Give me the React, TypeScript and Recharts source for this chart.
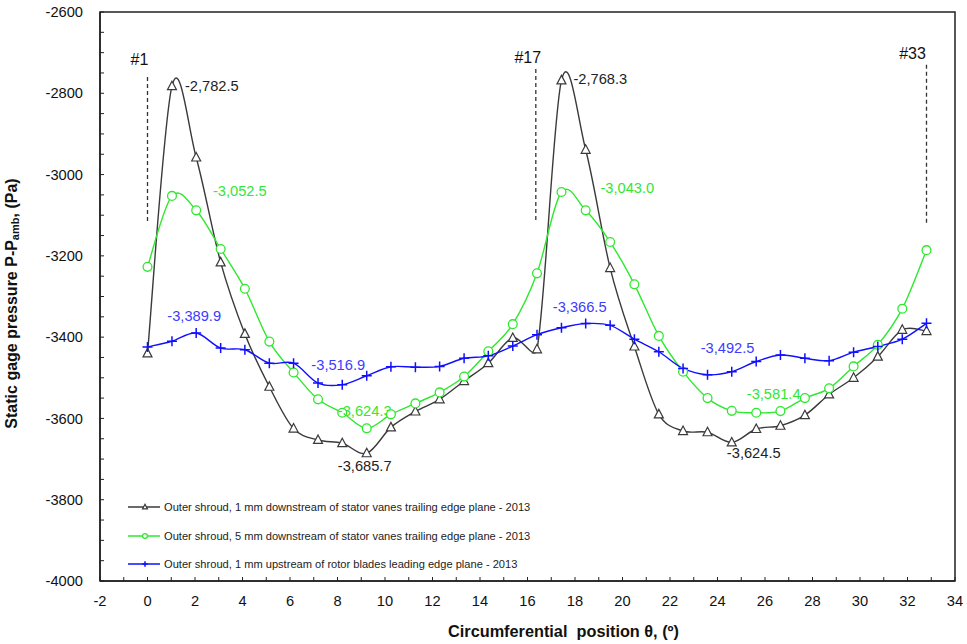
import React from 'react';
import { LineChart, Line, XAxis, YAxis, ReferenceLine, ReferenceDot, ReferenceArea, Legend } from 'recharts';

// measurement positions (degrees)
const theta = [0, 1.03, 2.05, 3.08, 4.1, 5.13, 6.15, 7.18, 8.2, 9.23, 10.25, 11.28, 12.3, 13.33, 14.35, 15.38, 16.4,
  17.43, 18.45, 19.48, 20.5, 21.53, 22.55, 23.58, 24.6, 25.63, 26.65, 27.68, 28.7, 29.73, 30.75, 31.78, 32.8];

// 1 mm downstream of stator vanes
const down1 = [-3440, -2782.5, -2958, -3216, -3392, -3522, -3625, -3653, -3661, -3685.7, -3622, -3583, -3553, -3508, -3464,
  -3402, -3430, -2768.3, -2939, -3230, -3423, -3590, -3631, -3634, -3659, -3626, -3618, -3592, -3541, -3500, -3448, -3382, -3385];

// 5 mm downstream of stator vanes
const down5 = [-3227, -3052.5, -3088, -3183, -3281, -3411, -3487, -3553, -3586, -3624.3, -3590, -3563, -3536, -3497, -3435,
  -3368, -3243, -3043.0, -3088, -3166, -3270, -3397, -3485, -3550, -3581.4, -3586, -3582, -3550, -3526, -3472, -3419, -3330, -3186];

// 1 mm upstream of rotor blades
const up1 = [-3424, -3410, -3389.9, -3427, -3431, -3464, -3464, -3513, -3516.9, -3495, -3473, -3474, -3472, -3452, -3446,
  -3422, -3394, -3377, -3366.5, -3371, -3405, -3436, -3477, -3492.5, -3485, -3460, -3444, -3452, -3458, -3437, -3423, -3405, -3366];

const xTicks = [-2, -1, 0, 1, 2, 3, 4, 5, 6, 7, 8, 9, 10, 11, 12, 13, 14, 15, 16, 17, 18, 19, 20, 21, 22, 23, 24, 25, 26, 27, 28, 29, 30, 31, 32, 33, 34];
const yTicks = [-4000, -3950, -3900, -3850, -3800, -3750, -3700, -3650, -3600, -3550, -3500, -3450, -3400, -3350, -3300, -3250,
  -3200, -3150, -3100, -3050, -3000, -2950, -2900, -2850, -2800, -2750, -2700, -2650, -2600];

// blade passage markers
const passNames = ['#1', '#17', '#33'];
const passX = [0, 16.35, 32.8];
const passTop = [-2760, -2740, -2730];
const passBottom = [-3115, -3115, -3122];

const seriesNames = [
  'Outer shroud, 1 mm downstream of stator vanes trailing edge plane - 2013',
  'Outer shroud, 5 mm downstream of stator vanes trailing edge plane - 2013',
  'Outer shroud, 1 mm upstream of rotor blades leading edge plane - 2013',
];

const data = theta.map((t, i) => ({ theta: t, down1: down1[i], down5: down5[i], up1: up1[i] }));

const FONT = '"Liberation Sans", Arial, sans-serif';
const BLACK = '#3a3a3a';
const GREEN = '#2ee82e';
const BLUE = '#1010ff';

// value labels: point index -> text and offset
const labelsDown1: Record<number, [string, number, number, string]> = {
  1: ['-2,782.5', 13, 0, 'start'],
  9: ['-3,685.7', -2, 13, 'middle'],
  17: ['-2,768.3', 12, -1, 'start'],
  24: ['-3,624.5', 22, 11, 'middle'],
};
const labelsDown5: Record<number, [string, number, number, string]> = {
  1: ['-3,052.5', 41, -5, 'start'],
  9: ['-3,624.3', -2, -17, 'middle'],
  17: ['-3,043.0', 39, -4, 'start'],
  24: ['-3,581.4', 15, -17, 'start'],
};
const labelsUp1: Record<number, [string, number, number, string]> = {
  2: ['-3,389.9', -2, -17, 'middle'],
  8: ['-3,516.9', -4, -20, 'middle'],
  18: ['-3,366.5', -6, -17, 'middle'],
  23: ['-3,492.5', 20, -27, 'middle'],
};

const dist = (a: number[], b: number[]) => Math.hypot(a[0] - b[0], a[1] - b[1]);

// Excel-like smoothed line: Catmull-Rom tangents, control arms capped at half the segment
const excelSmooth = (context: any) => {
  let pts: number[][] = [];
  return {
    areaStart() {},
    areaEnd() {},
    lineStart() { pts = []; },
    point(x: number, y: number) { pts.push([+x, +y]); },
    lineEnd() {
      const n = pts.length;
      if (!n) return;
      context.moveTo(pts[0][0], pts[0][1]);
      for (let i = 0; i < n - 1; i++) {
        const p0 = pts[Math.max(i - 1, 0)], p1 = pts[i], p2 = pts[i + 1], p3 = pts[Math.min(i + 2, n - 1)];
        const d12 = dist(p1, p2), d02 = dist(p0, p2), d13 = dist(p1, p3);
        const f1 = d02 > 0 ? Math.min(1 / 6, (0.5 * d12) / d02) : 0;
        const f2 = d13 > 0 ? Math.min(1 / 6, (0.5 * d12) / d13) : 0;
        context.bezierCurveTo(
          p1[0] + (p2[0] - p0[0]) * f1, p1[1] + (p2[1] - p0[1]) * f1,
          p2[0] - (p3[0] - p1[0]) * f2, p2[1] - (p3[1] - p1[1]) * f2,
          p2[0], p2[1]);
      }
    },
  };
};

const Triangle = ({ cx, cy, s = 1 }: any) => (
  <polygon points={`${cx},${cy - 5 * s} ${cx - 4.5 * s},${cy + 3.5 * s} ${cx + 4.5 * s},${cy + 3.5 * s}`}
    fill="#fff" stroke={BLACK} strokeWidth={1.2} />
);
const Circle = ({ cx, cy, s = 1 }: any) => (
  <circle cx={cx} cy={cy} r={4.4 * s} fill="#fff" stroke={GREEN} strokeWidth={1.3} />
);
const Plus = ({ cx, cy, s = 1 }: any) => (
  <path d={`M${cx - 5 * s},${cy}H${cx + 5 * s}M${cx},${cy - 5 * s}V${cy + 5 * s}`} stroke={BLUE} strokeWidth={1.5} />
);

const makeDot = (Marker: any, labels: Record<number, [string, number, number, string]>, color: string) => (props: any) => {
  const { cx, cy, index } = props;
  const lab = labels[index];
  return (
    <g key={`d-${index}`}>
      <Marker cx={cx} cy={cy} />
      {lab && (
        <text x={cx + lab[1]} y={cy + lab[2]} textAnchor={lab[3] as any} dominantBaseline="central"
          fontSize={14.67} fill={color} fontFamily={FONT}>{lab[0]}</text>
      )}
    </g>
  );
};

const YTitle = (props: any) => {
  const vb = props.viewBox;
  const x = vb.x + 11;
  const y = vb.y + vb.height / 2 + 7;
  return (
    <text x={x} y={y} transform={`rotate(-90 ${x} ${y})`} textAnchor="middle" dominantBaseline="central"
      fontSize={16} fontWeight="bold" fill="#111" fontFamily={FONT}>
      Static gage pressure P-P<tspan fontSize={11} dy={4}>amb</tspan><tspan dy={-4}>, (Pa)</tspan>
    </text>
  );
};

const XTitle = (props: any) => {
  const vb = props.viewBox;
  return (
    <text x={vb.x + vb.width / 2 + 36} y={vb.y + 50} textAnchor="middle" dominantBaseline="central"
      fontSize={16.3} fontWeight="bold" fill="#111" fontFamily={FONT} style={{ whiteSpace: 'pre' }}>
      {'Circumferential  position θ, (º)'}
    </text>
  );
};

const legendMarkers = [Triangle, Circle, Plus];
const legendColors = [BLACK, GREEN, BLUE];

const LegendBox = () => (
  <div style={{ fontFamily: FONT }}>
    {seriesNames.map((name, i) => {
      const M = legendMarkers[i];
      return (
        <div key={name} style={{ display: 'flex', alignItems: 'center', height: 28.5 }}>
          <svg width={34} height={12} style={{ display: 'block' }}>
            <line x1={1} y1={6} x2={33} y2={6} stroke={legendColors[i]} strokeWidth={1.5} />
            <M cx={18} cy={6} s={0.55} />
          </svg>
          <span style={{ fontSize: 11.1, color: '#222', marginLeft: 3, whiteSpace: 'nowrap' }}>{name}</span>
        </div>
      );
    })}
  </div>
);

export default function App() {
  return (
    <div style={{ position: 'absolute', left: 0, top: 0, background: '#fff' }}>
      <LineChart width={967} height={644} data={data} margin={{ top: 12, right: 12, bottom: 0, left: 0 }}
        style={{ fontFamily: FONT }}>
        <XAxis dataKey="theta" type="number" domain={[-2, 34]} ticks={xTicks} interval={0} height={63}
          tickFormatter={(v: number) => (v % 2 === 0 ? String(v) : '')}
          tickSize={-4} tickMargin={19} axisLine={{ stroke: '#222', strokeWidth: 1.5 }}
          tickLine={{ stroke: '#222' }} tick={{ fontSize: 14.67, fill: '#111' }} label={XTitle} />
        <YAxis type="number" domain={[-4000, -2600]} ticks={yTicks} interval={0} width={100}
          tickFormatter={(v: number) => (v % 200 === 0 ? String(v) : '')}
          tickSize={-4} tickMargin={21} axisLine={{ stroke: '#222', strokeWidth: 1.5 }}
          tickLine={{ stroke: '#222' }} tick={{ fontSize: 14.67, fill: '#111' }} label={YTitle} />
        <ReferenceArea x1={-2} x2={34} y1={-4000} y2={-2600} fill="none" stroke="#222" strokeWidth={1.5} />
        {passNames.map((n, i) => (
          <ReferenceLine key={n} segment={[{ x: passX[i], y: passTop[i] }, { x: passX[i], y: passBottom[i] }]}
            stroke="#333" strokeWidth={1.3} strokeDasharray="4 3" />
        ))}
        {passNames.map((n, i) => (
          <ReferenceDot key={`t${n}`} x={passX[i]} y={passTop[i]} r={0}
            shape={(p: any) => (
              <text x={p.cx - (i === 2 ? 14 : 8)} y={p.cy - (i === 0 ? 12 : 6)} textAnchor="middle" fontSize={16}
                fill="#111" fontFamily={FONT}>{n}</text>
            )} />
        ))}
        <Line dataKey="down1" type={excelSmooth as any} stroke={BLACK} strokeWidth={1.4}
          dot={makeDot(Triangle, labelsDown1, '#222')} isAnimationActive={false} />
        <Line dataKey="down5" type={excelSmooth as any} stroke={GREEN} strokeWidth={1.4}
          dot={makeDot(Circle, labelsDown5, '#33e633')} isAnimationActive={false} />
        <Line dataKey="up1" type={excelSmooth as any} stroke={BLUE} strokeWidth={1.4}
          dot={makeDot(Plus, labelsUp1, '#3c3cff')} isAnimationActive={false} />
        <Legend layout="vertical" align="center" verticalAlign="middle" content={LegendBox}
          wrapperStyle={{ left: 127, top: 493, width: 'auto' }} />
      </LineChart>
    </div>
  );
}
